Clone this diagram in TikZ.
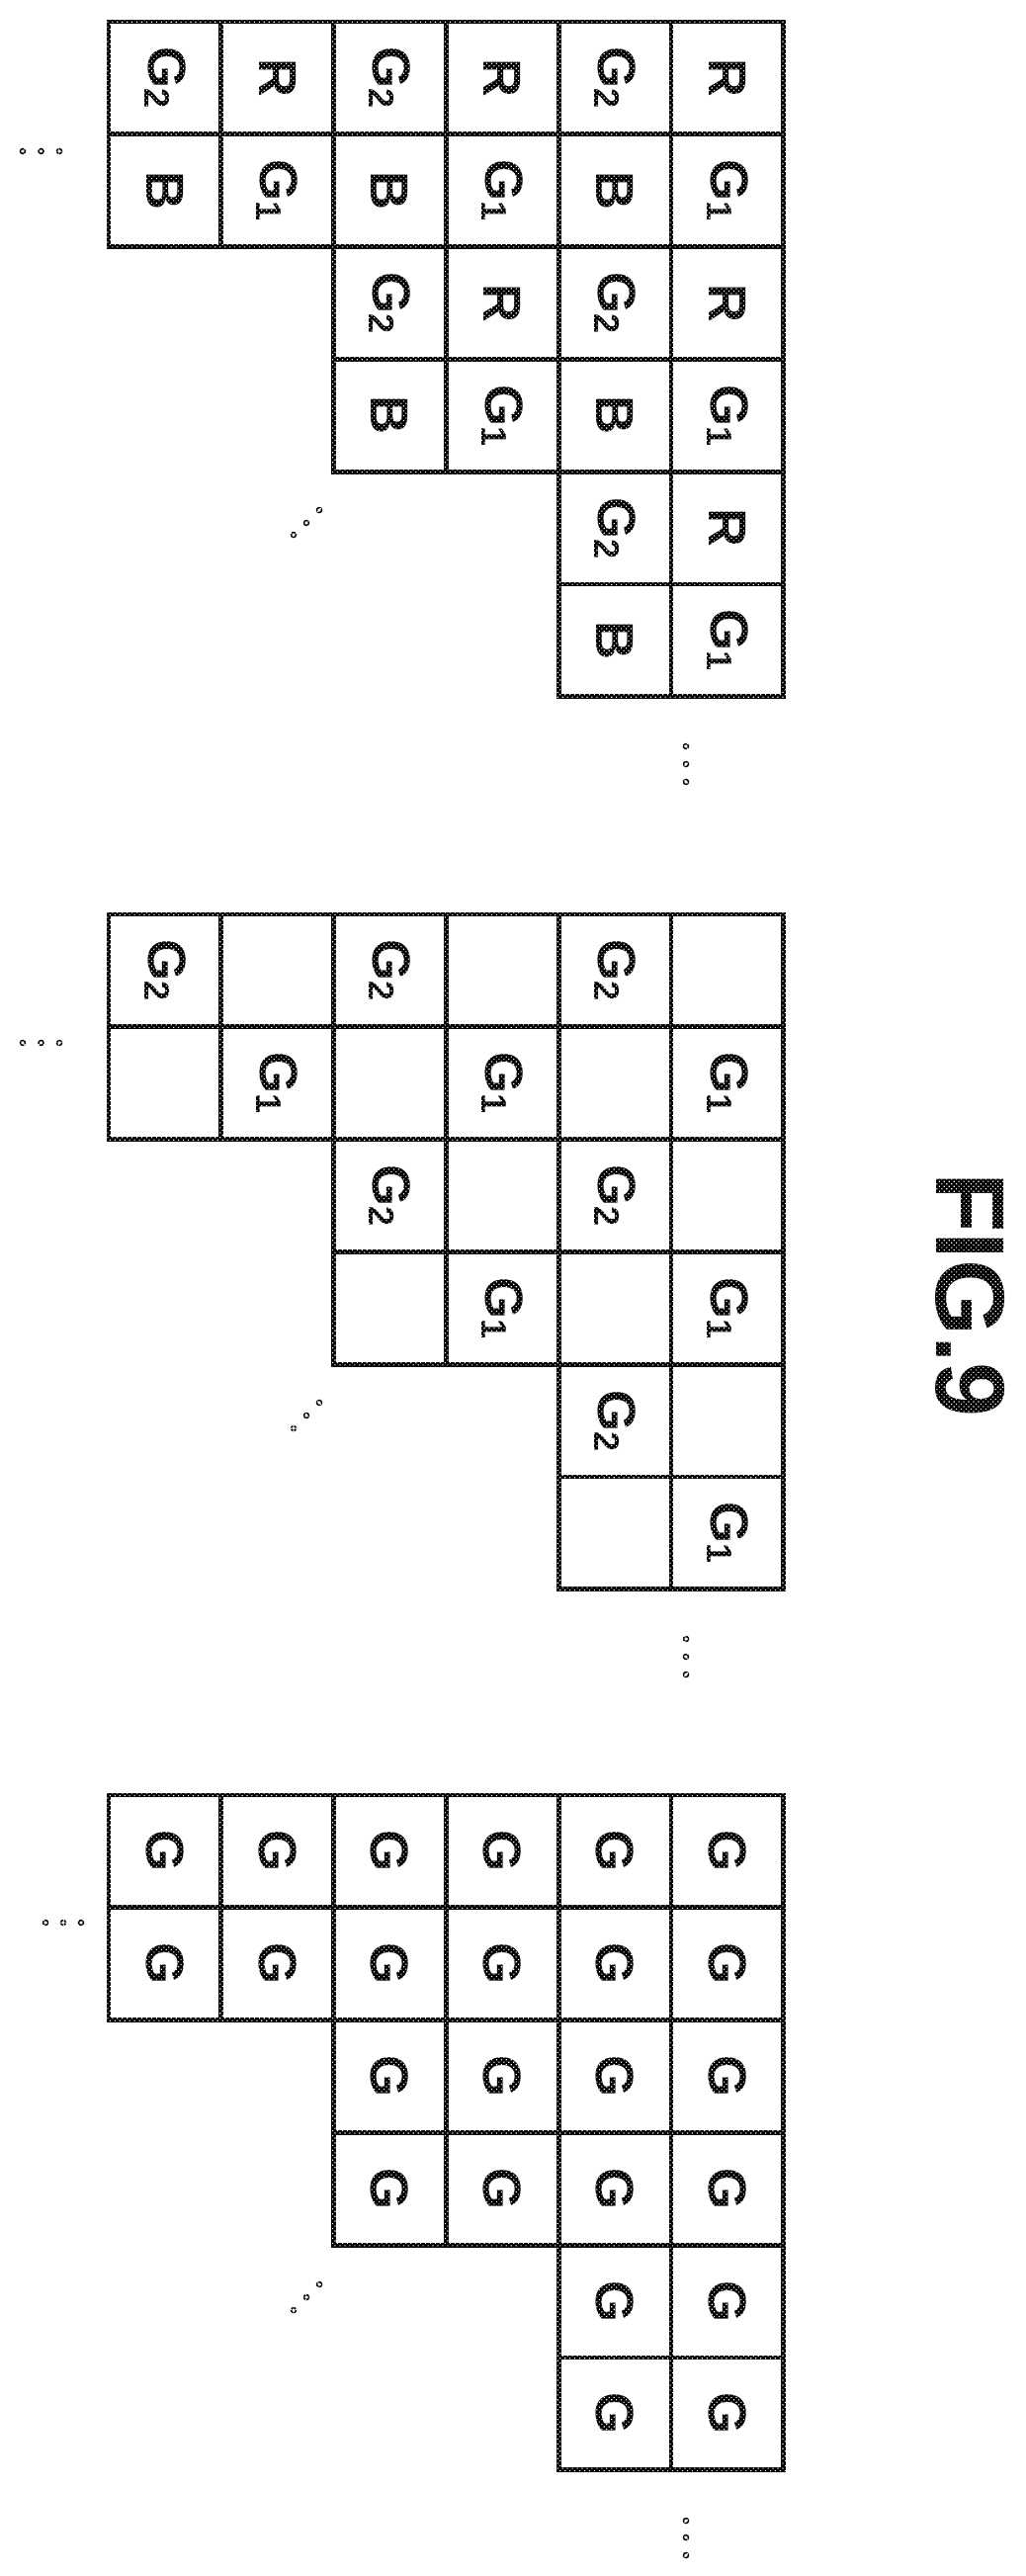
\documentclass[tikz,border=0pt]{standalone}
\usepackage{fontspec}
\setmainfont{Liberation Sans}
\usetikzlibrary{patterns.meta}
\newcommand{\subdigit}[1]{\raisebox{-4pt}{\fontsize{36}{36}\selectfont #1}}
\newcommand{\labRGB}[1]{\ifcase#1 G\subdigit{2}\or R\or B\or G\subdigit{1}\fi}
\newcommand{\labGG}[1]{\ifcase#1 G\subdigit{2}\or \or \or G\subdigit{1}\fi}
\newcommand{\labG}[1]{G}
\tikzset{
  cellbox/.style={draw=black,line width=4.8pt,minimum size=113.8pt,inner sep=0pt,outer sep=0pt,
    rotate=-90,font=\fontsize{54}{54}\selectfont\bfseries},
  figlabel/.style={rotate=-90,inner sep=0pt,font=\fontsize{99}{99}\selectfont\bfseries},
  ell/.style={circle,draw=black,fill=white,line width=1.5pt,minimum size=5pt,inner sep=0pt}
}
\newcommand{\block}[3]{% name, top y, label macro
  \foreach \r/\s in {0/0,1/0,2/2,3/2,4/4,5/4}{
    \foreach \c in {\s,...,5}{
      \pgfmathtruncatemacro{\k}{2*mod(\r,2)+mod(\c,2)}
      \pgfmathsetmacro{\px}{110+113.8*\c+56.9}
      \pgfmathsetmacro{\py}{#2+113.8*\r+56.9}
      \node[cellbox] (#1-\r-\c) at (\px,\py) {#3{\k}};
    }
  }
}
\begin{document}
\begin{tikzpicture}[x=1pt,y=-1pt]
\fill[white] (0,0) rectangle (1037,2606);
\useasboundingbox (0,0) rectangle (1037,2606);
\block{a}{22}{\labRGB}
\block{b}{925}{\labGG}
\block{c}{1816}{\labG}
\node[figlabel] (fig) at (982,1310) {FIG.9};
% ellipses, top block
\node[ell] (a1) at (23,153) {}; \node[ell] (a2) at (41.5,153) {}; \node[ell] (a3) at (60,153) {};
\node[ell] (a4) at (323,516) {}; \node[ell] (a5) at (310,529) {}; \node[ell] (a6) at (297,541) {};
\node[ell] (a7) at (694,755) {}; \node[ell] (a8) at (694,773) {}; \node[ell] (a9) at (694,791) {};
% ellipses, middle block
\node[ell] (b1) at (23,1055) {}; \node[ell] (b2) at (41.5,1055) {}; \node[ell] (b3) at (60,1055) {};
\node[ell] (b4) at (323,1419) {}; \node[ell] (b5) at (310,1432) {}; \node[ell] (b6) at (297,1445) {};
\node[ell] (b7) at (694,1658) {}; \node[ell] (b8) at (694,1676) {}; \node[ell] (b9) at (694,1694) {};
% ellipses, lower block
\node[ell] (c1) at (46,1945) {}; \node[ell] (c2) at (64,1945) {}; \node[ell] (c3) at (82,1945) {};
\node[ell] (c4) at (323,2311) {}; \node[ell] (c5) at (310,2324) {}; \node[ell] (c6) at (297,2337) {};
\node[ell] (c7) at (694,2550) {}; \node[ell] (c8) at (694,2567) {}; \node[ell] (c9) at (694,2585) {};
% halftone screen of the scan: white dots over everything
\fill[pattern={Dots[radius=0.8pt,distance=3.5pt,angle=45]},pattern color=white] (0,0) rectangle (1037,2606);
\end{tikzpicture}
\end{document}
